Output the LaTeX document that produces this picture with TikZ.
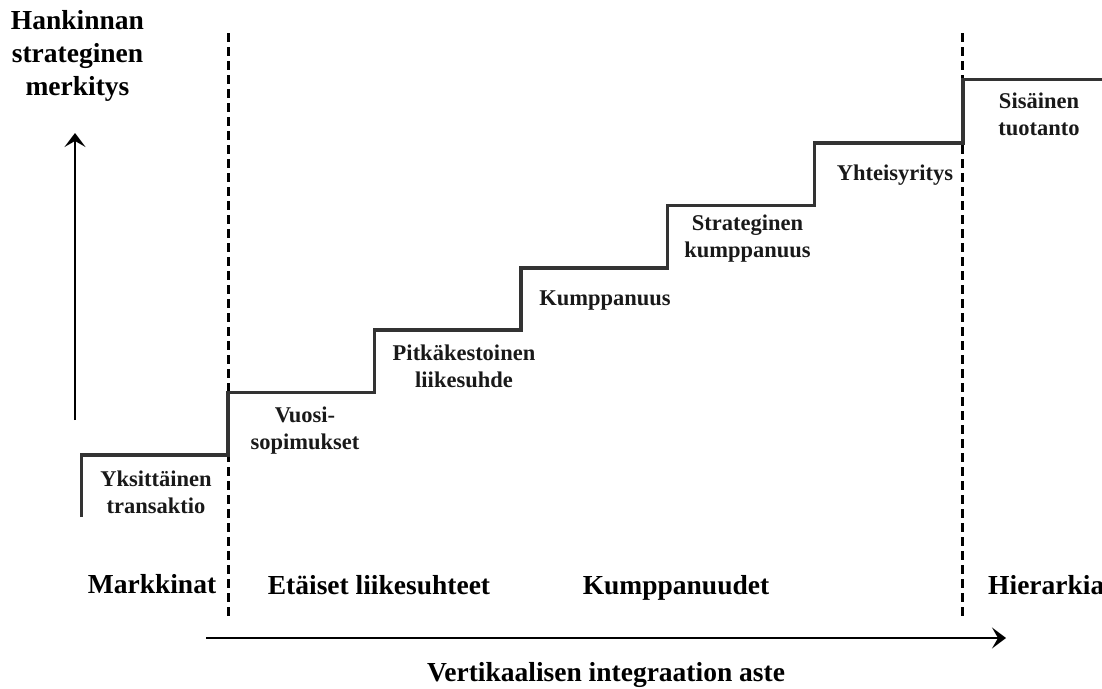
\documentclass[tikz,border=0pt]{standalone}
\usepackage{fontspec}
\setmainfont{Liberation Serif}
\usetikzlibrary{arrows.meta}
\begin{document}
\begin{tikzpicture}[x=1pt,y=-1pt,
  biglabel/.style={font=\bfseries\fontsize{27.5}{33}\selectfont, inner sep=0pt, anchor=base, align=center, text=black},
  steplabel/.style={font=\bfseries\fontsize{22.5}{27}\selectfont, inner sep=0pt, anchor=base, align=center, text=black!90},
  stairline/.style={line width=3.4pt, draw=black!80, line join=miter, line cap=butt},
  divider/.style={line width=2.7pt, draw=black, dash pattern=on 9pt off 5pt},
  axisarrow/.style={draw=black, -{Stealth[length=14pt,width=21pt,inset=6pt]}}
]
\useasboundingbox (0,0) rectangle (1102,688);

% dashed dividers
\coordinate (d1top) at (228.5,33);
\coordinate (d1bot) at (228.5,618);
\coordinate (d2top) at (962.5,33);
\coordinate (d2bot) at (962.5,618);
\draw[divider] (d1top) -- (d1bot);
\draw[divider] (d2top) -- (d2bot);

% staircase
\coordinate (s0) at (81.5,517);
\coordinate (s1) at (81.5,455);
\coordinate (s2) at (228,455);
\coordinate (s3) at (228,392.5);
\coordinate (s4) at (374.5,392.5);
\coordinate (s5) at (374.5,330);
\coordinate (s6) at (521,330);
\coordinate (s7) at (521,268);
\coordinate (s8) at (667.5,268);
\coordinate (s9) at (667.5,205.5);
\coordinate (s10) at (814.5,205.5);
\coordinate (s11) at (814.5,143);
\coordinate (s12) at (963,143);
\coordinate (s13) at (963,79.5);
\coordinate (s14) at (1103,79.5);
\draw[stairline] (s0) -- (s1) -- (s2) -- (s3) -- (s4) -- (s5) -- (s6) -- (s7) -- (s8) -- (s9) -- (s10) -- (s11) -- (s12) -- (s13) -- (s14);

% axes
\coordinate (ya) at (75,420);
\coordinate (yb) at (75,133);
\draw[axisarrow, line width=2.4pt] (ya) -- (yb);
\coordinate (xa) at (206,638);
\coordinate (xb) at (1006,638);
\draw[axisarrow, line width=2.9pt] (xa) -- (xb);

% axis titles (base = baseline of last line)
\node[biglabel] (ytitle) at (77.5,95) {Hankinnan\\strateginen\\merkitys};
\node[biglabel] (xtitle) at (606,681) {Vertikaalisen integraation aste};

% region labels
\node[biglabel] (markkinat) at (152,593) {Markkinat};
\node[biglabel] (etaiset) at (379,594) {Etäiset liikesuhteet};
\node[biglabel] (kumppanuudet) at (676,594) {Kumppanuudet};
\node[biglabel, anchor=base west] (hierarkia) at (988,594) {Hierarkia};

% step labels (base = baseline of last line)
\node[steplabel] (yks) at (156,513) {Yksittäinen\\transaktio};
\node[steplabel] (vuosi) at (305,449) {Vuosi-\\sopimukset};
\node[steplabel] (pitka) at (464,387) {Pitkäkestoinen\\liikesuhde};
\node[steplabel] (kump) at (605,305) {Kumppanuus};
\node[steplabel] (strat) at (747.5,257) {Strateginen\\kumppanuus};
\node[steplabel] (yhteis) at (895,180) {Yhteisyritys};
\node[steplabel] (sis) at (1039,135) {Sisäinen\\tuotanto};
\end{tikzpicture}
\end{document}
